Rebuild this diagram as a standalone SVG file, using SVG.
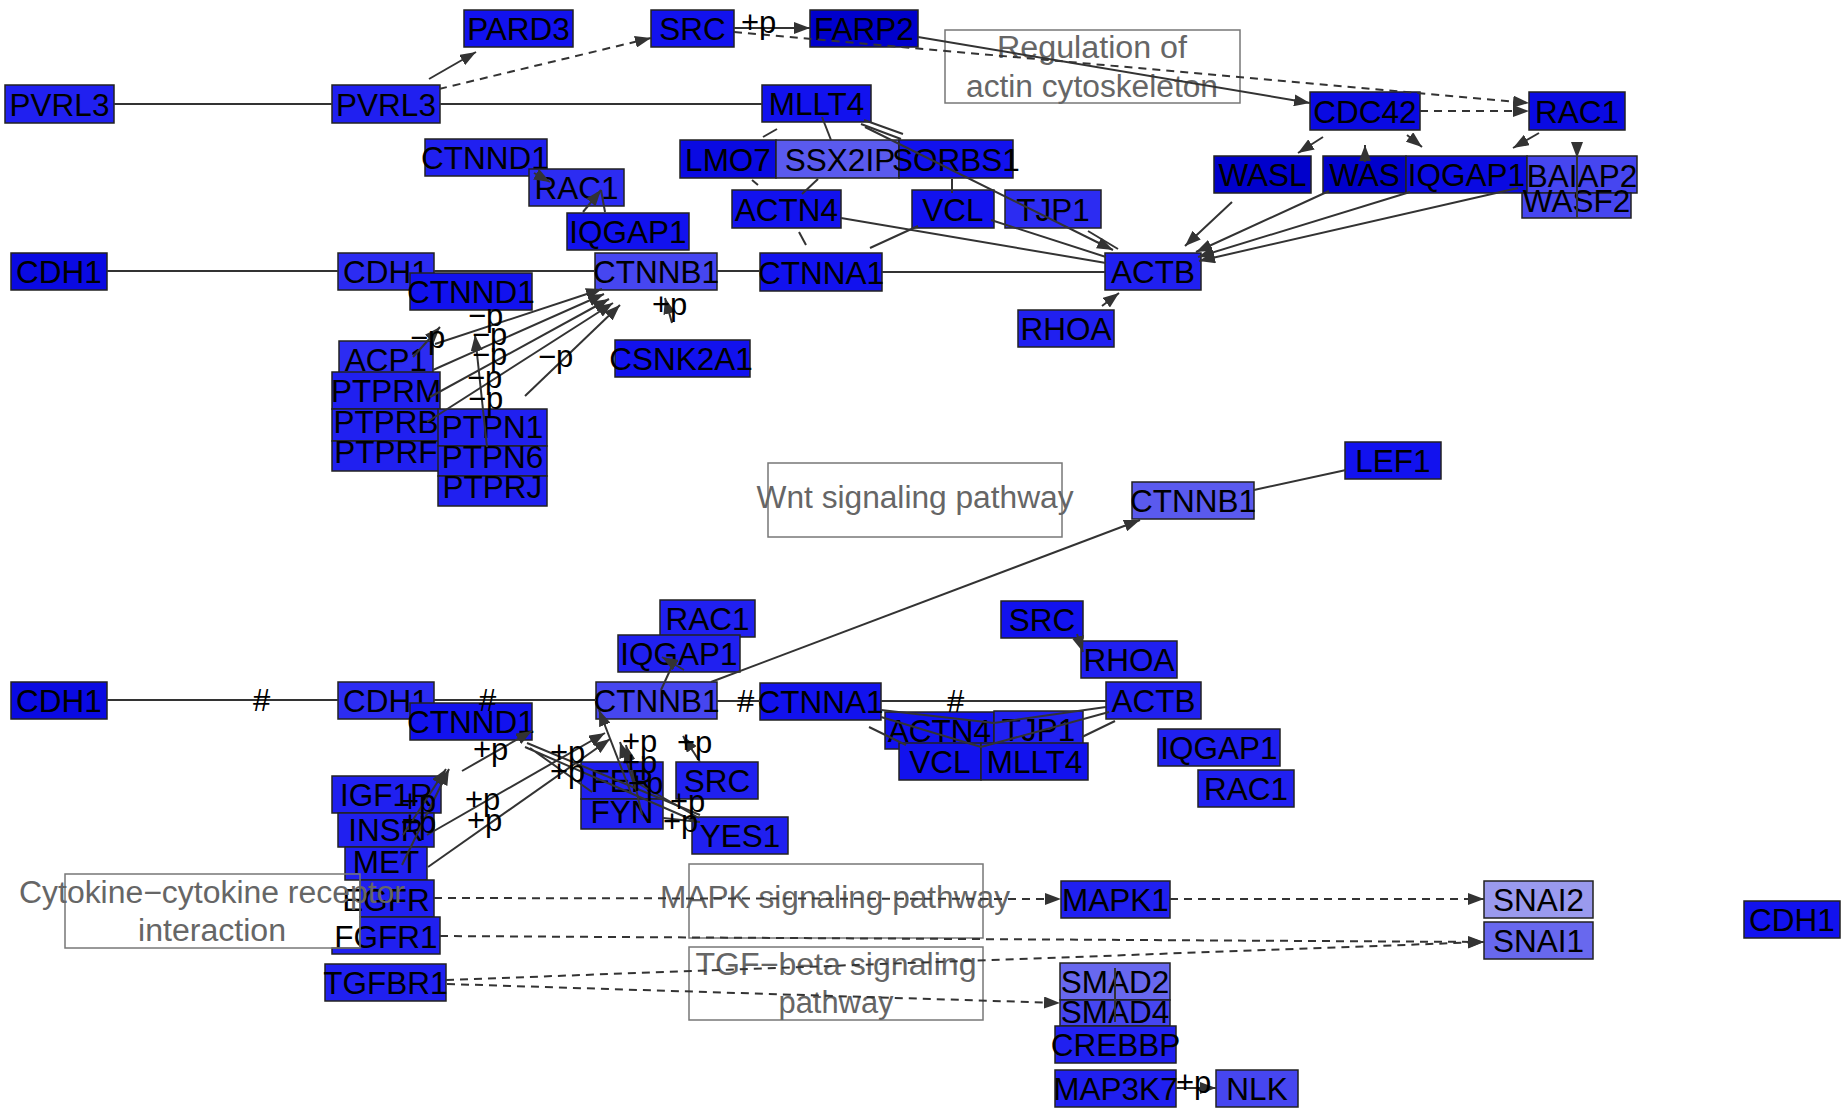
<svg xmlns="http://www.w3.org/2000/svg" width="1844" height="1111" viewBox="0 0 1844 1111">
<style>
.n rect,.n path{stroke:#222;stroke-width:1.5}
.n text{font-family:"Liberation Sans",Arial,sans-serif;font-size:31.5px;fill:#000;text-anchor:middle}
.pw rect{fill:none;stroke:#777;stroke-width:1.5}
.pw text{font-family:"Liberation Sans",Arial,sans-serif;font-size:31px;fill:#666;text-anchor:middle}
.e{fill:none;stroke:#333;stroke-width:2}
.d{stroke-dasharray:8 6}
.a{marker-end:url(#ah)}
.lb{font-family:"Liberation Sans",Arial,sans-serif;font-size:31px;fill:#000}
.k0{fill:#0000cc}.k1{fill:#0a0ae2}.k2{fill:#1212ee}.k3{fill:#2020f0}.k4{fill:#2c2cf2}.k5{fill:#4646f0}.k6{fill:#5a5aee}.k7{fill:#6868ee}.k8{fill:#9a9aee}
</style>
<defs>
<marker id="ah" viewBox="0 0 16 12" refX="16" refY="6" markerWidth="16" markerHeight="12" markerUnits="userSpaceOnUse" orient="auto"><path d="M0,0 L16,6 L0,12 z" fill="#333"/></marker>
</defs>
<rect width="1844" height="1111" fill="#fff"/>
<g id="nodes">
<g id="n-PVRL3-1" class="n"><rect class="k3" x="5" y="85" width="109" height="38"/><text x="59.5" y="115.5">PVRL3</text></g>
<g id="n-PVRL3-2" class="n"><rect class="k3" x="332" y="85" width="108" height="38"/><text x="386" y="115.5">PVRL3</text></g>
<g id="n-PARD3" class="n"><rect class="k2" x="464" y="10" width="109" height="37"/><text x="518.5" y="40">PARD3</text></g>
<g id="n-SRC-1" class="n"><rect class="k2" x="651" y="10" width="83" height="37"/><text x="692.5" y="40">SRC</text></g>
<g id="n-FARP2" class="n"><rect class="k0" x="810" y="10" width="108" height="37"/><text x="864" y="40">FARP2</text></g>
<g id="n-MLLT4-1" class="n"><rect class="k2" x="762" y="85" width="109" height="37"/><text x="816.5" y="115">MLLT4</text></g>
<g id="n-CTNND1-1" class="n"><rect class="k3" x="425" y="139" width="122" height="37"/><text x="485" y="169">CTNND1</text></g>
<g id="n-RAC1-1" class="n"><rect class="k4" x="529" y="169" width="95" height="37"/><text x="576.5" y="199">RAC1</text></g>
<g id="n-IQGAP1-1" class="n"><rect class="k2" x="567" y="213" width="122" height="37"/><text x="628" y="243">IQGAP1</text></g>
<g id="n-LMO7" class="n"><rect class="k1" x="680" y="140" width="96" height="38"/><text x="728" y="170.5">LMO7</text></g>
<g id="n-SSX2IP" class="n"><rect class="k6" x="776" y="140" width="123" height="38"/><text x="840" y="170.5">SSX2IP</text></g>
<g id="n-SORBS1" class="n"><rect class="k2" x="899" y="140" width="114" height="38"/><text x="956" y="170.5">SORBS1</text></g>
<g id="n-ACTN4-1" class="n"><rect class="k2" x="732" y="190" width="109" height="38"/><text x="786.5" y="220.5">ACTN4</text></g>
<g id="n-VCL-1" class="n"><rect class="k2" x="912" y="190" width="82" height="38"/><text x="953" y="220.5">VCL</text></g>
<g id="n-TJP1-1" class="n"><rect class="k4" x="1005" y="190" width="96" height="38"/><text x="1053" y="220.5">TJP1</text></g>
<g id="n-CDH1-1" class="n"><rect class="k1" x="11" y="253" width="96" height="37"/><text x="59" y="283">CDH1</text></g>
<g id="n-CDH1-2" class="n"><rect class="k4" x="338" y="253" width="96" height="37"/><text x="386" y="283">CDH1</text></g>
<g id="n-CTNND1-2" class="n"><rect class="k2" x="410" y="273" width="122" height="37"/><text x="471" y="303">CTNND1</text></g>
<g id="n-CTNNB1-1" class="n"><rect class="k5" x="595" y="253" width="122" height="37"/><text x="656" y="283">CTNNB1</text></g>
<g id="n-CTNNA1-1" class="n"><rect class="k2" x="760" y="253" width="122" height="38"/><text x="821" y="283.5">CTNNA1</text></g>
<g id="n-ACTB-1" class="n"><rect class="k3" x="1105" y="253" width="96" height="37"/><text x="1153" y="283">ACTB</text></g>
<g id="n-RHOA-1" class="n"><rect class="k3" x="1018" y="310" width="96" height="37"/><text x="1066" y="340">RHOA</text></g>
<g id="n-CDC42" class="n"><rect class="k1" x="1310" y="92" width="110" height="38"/><text x="1365" y="122.5">CDC42</text></g>
<g id="n-RAC1-2" class="n"><rect class="k1" x="1529" y="92" width="96" height="38"/><text x="1577" y="122.5">RAC1</text></g>
<g id="n-WASL" class="n"><rect class="k0" x="1214" y="156" width="97" height="37"/><text x="1262.5" y="186">WASL</text></g>
<g id="n-WAS" class="n"><rect class="k0" x="1323" y="156" width="83" height="37"/><text x="1364.5" y="186">WAS</text></g>
<g id="n-IQGAP1-2" class="n"><rect class="k1" x="1406" y="156" width="121" height="37"/><text x="1466.5" y="186">IQGAP1</text></g>
<g id="n-BAIAP2" class="n"><rect class="k5" x="1527" y="156" width="110" height="37"/><text x="1582" y="187">BAIAP2</text></g>
<g id="n-WASF2" class="n"><rect class="k5" x="1522" y="193" width="109" height="25"/><text x="1576.5" y="212">WASF2</text></g>
<g id="n-ACP1" class="n"><rect class="k4" x="339" y="341" width="94" height="37"/><text x="386" y="371">ACP1</text></g>
<g id="n-PTPRM" class="n"><rect class="k3" x="332" y="372" width="108" height="37"/><text x="386" y="402">PTPRM</text></g>
<g id="n-PTPRB" class="n"><rect class="k3" x="332" y="409" width="108" height="32"/><text x="386" y="433">PTPRB</text></g>
<g id="n-PTPRF" class="n"><rect class="k3" x="332" y="441" width="108" height="30"/><text x="386" y="463">PTPRF</text></g>
<g id="n-PTPN1" class="n"><rect class="k3" x="438" y="409" width="109" height="37"/><text x="492.5" y="438">PTPN1</text></g>
<g id="n-PTPN6" class="n"><rect class="k3" x="438" y="446" width="109" height="30"/><text x="492.5" y="468">PTPN6</text></g>
<g id="n-PTPRJ" class="n"><rect class="k3" x="438" y="476" width="109" height="30"/><text x="492.5" y="498">PTPRJ</text></g>
<g id="n-CSNK2A1" class="n"><rect class="k2" x="615" y="340" width="135" height="37"/><text x="681" y="370">CSNK2A1</text></g>
<g id="n-LEF1" class="n"><rect class="k2" x="1345" y="442" width="96" height="37"/><text x="1393" y="472">LEF1</text></g>
<g id="n-CTNNB1-2" class="n"><rect class="k6" x="1132" y="482" width="122" height="37"/><text x="1193" y="512">CTNNB1</text></g>
<g id="n-CDH1-3" class="n"><rect class="k1" x="11" y="682" width="96" height="37"/><text x="59" y="712">CDH1</text></g>
<g id="n-CDH1-4" class="n"><rect class="k4" x="338" y="682" width="96" height="37"/><text x="386" y="712">CDH1</text></g>
<g id="n-CTNND1-3" class="n"><rect class="k2" x="410" y="703" width="122" height="37"/><text x="471" y="733">CTNND1</text></g>
<g id="n-RAC1-3" class="n"><rect class="k3" x="660" y="600" width="95" height="37"/><text x="707.5" y="630">RAC1</text></g>
<g id="n-IQGAP1-3" class="n"><rect class="k3" x="618" y="635" width="122" height="37"/><text x="679" y="665">IQGAP1</text></g>
<g id="n-CTNNB1-3" class="n"><rect class="k5" x="596" y="682" width="121" height="37"/><text x="656.5" y="712">CTNNB1</text></g>
<g id="n-CTNNA1-2" class="n"><rect class="k2" x="760" y="683" width="121" height="37"/><text x="820.5" y="713">CTNNA1</text></g>
<g id="n-ACTN4-2" class="n"><rect class="k2" x="885" y="712" width="109" height="37"/><text x="939.5" y="742">ACTN4</text></g>
<g id="n-TJP1-2" class="n"><rect class="k3" x="994" y="711" width="89" height="37"/><text x="1038.5" y="741">TJP1</text></g>
<g id="n-VCL-2" class="n"><rect class="k2" x="899" y="743" width="82" height="37"/><text x="940" y="773">VCL</text></g>
<g id="n-MLLT4-2" class="n"><rect class="k2" x="981" y="743" width="107" height="37"/><text x="1034.5" y="773">MLLT4</text></g>
<g id="n-SRC-2" class="n"><rect class="k2" x="1001" y="601" width="82" height="37"/><text x="1042" y="631">SRC</text></g>
<g id="n-RHOA-2" class="n"><rect class="k3" x="1081" y="641" width="96" height="37"/><text x="1129" y="671">RHOA</text></g>
<g id="n-ACTB-2" class="n"><rect class="k3" x="1106" y="682" width="95" height="37"/><text x="1153.5" y="712">ACTB</text></g>
<g id="n-IQGAP1-4" class="n"><rect class="k3" x="1158" y="729" width="122" height="37"/><text x="1219" y="759">IQGAP1</text></g>
<g id="n-RAC1-4" class="n"><rect class="k3" x="1198" y="770" width="96" height="37"/><text x="1246" y="800">RAC1</text></g>
<g id="n-FER" class="n"><rect class="k3" x="581" y="762" width="82" height="37"/><text x="622" y="792">FER</text></g>
<g id="n-FYN" class="n"><rect class="k3" x="581" y="799" width="82" height="30"/><text x="622" y="823">FYN</text></g>
<g id="n-SRC-3" class="n"><rect class="k3" x="676" y="762" width="82" height="37"/><text x="717" y="792">SRC</text></g>
<g id="n-YES1" class="n"><rect class="k3" x="692" y="817" width="96" height="37"/><text x="740" y="847">YES1</text></g>
<g id="n-IGF1R" class="n"><rect class="k3" x="332" y="776" width="109" height="37"/><text x="386.5" y="806">IGF1R</text></g>
<g id="n-INSR" class="n"><rect class="k3" x="338" y="813" width="96" height="34"/><text x="386" y="840.5">INSR</text></g>
<g id="n-MET" class="n"><rect class="k3" x="345" y="847" width="82" height="33"/><text x="386" y="872.5">MET</text></g>
<g id="n-EGFR" class="n"><rect class="k3" x="360" y="880" width="74" height="37"/><text x="386" y="910.5">EGFR</text></g>
<g id="n-FGFR1" class="n"><path class="k3" d="M360,917 H440 V954 H332 V948 H360 Z"/><text x="386" y="947.5">FGFR1</text></g>
<g id="n-TGFBR1" class="n"><rect class="k3" x="325" y="964" width="121" height="37"/><text x="385.5" y="993.5">TGFBR1</text></g>
<g id="n-MAPK1" class="n"><rect class="k3" x="1061" y="881" width="109" height="37"/><text x="1115.5" y="911">MAPK1</text></g>
<g id="n-SNAI2" class="n"><rect class="k8" x="1484" y="881" width="109" height="37"/><text x="1538.5" y="911">SNAI2</text></g>
<g id="n-SNAI1" class="n"><rect class="k7" x="1484" y="922" width="109" height="37"/><text x="1538.5" y="952">SNAI1</text></g>
<g id="n-CDH1-5" class="n"><rect class="k2" x="1744" y="901" width="96" height="37"/><text x="1792" y="931">CDH1</text></g>
<g id="n-SMAD2" class="n"><rect class="k7" x="1060" y="963" width="110" height="37"/><text x="1115" y="993">SMAD2</text></g>
<g id="n-SMAD4" class="n"><rect class="k5" x="1060" y="1000" width="110" height="26"/><text x="1115" y="1022.5">SMAD4</text></g>
<g id="n-CREBBP" class="n"><rect class="k3" x="1055" y="1026" width="121" height="37"/><text x="1115.5" y="1056">CREBBP</text></g>
<g id="n-MAP3K7" class="n"><rect class="k3" x="1055" y="1070" width="121" height="37"/><text x="1115.5" y="1100">MAP3K7</text></g>
<g id="n-NLK" class="n"><rect class="k5" x="1216" y="1070" width="82" height="37"/><text x="1257" y="1100">NLK</text></g>
</g>
<g id="pathways">
<g id="p-actin" class="pw"><rect x="945" y="30" width="295" height="73"/><text x="1092" y="58" textLength="190" lengthAdjust="spacingAndGlyphs">Regulation of</text><text x="1092" y="97" textLength="252" lengthAdjust="spacingAndGlyphs">actin cytoskeleton</text></g>
<g id="p-wnt" class="pw"><rect x="768" y="463" width="294" height="74"/><text x="915" y="508" textLength="317" lengthAdjust="spacingAndGlyphs">Wnt signaling pathway</text></g>
<g id="p-mapk" class="pw"><rect x="689" y="864" width="294" height="74"/><text x="835" y="908" textLength="350" lengthAdjust="spacingAndGlyphs">MAPK signaling pathway</text></g>
<g id="p-tgfb" class="pw"><rect x="689" y="947" width="294" height="73"/><text x="836" y="975" textLength="281" lengthAdjust="spacingAndGlyphs">TGF−beta signaling</text><text x="836" y="1013" textLength="115" lengthAdjust="spacingAndGlyphs">pathway</text></g>
<g id="p-cytokine" class="pw"><rect x="65" y="874" width="295" height="74"/><text x="212" y="903" textLength="386" lengthAdjust="spacingAndGlyphs">Cytokine−cytokine receptor</text><text x="212" y="941" textLength="148" lengthAdjust="spacingAndGlyphs">interaction</text></g>
</g>
<g id="connectors">
<path class="e" d="M114,104 H332"/>
<path class="e" d="M440,104 H762"/>
<path class="e a" d="M429,79 L476,52"/>
<path class="e d a" d="M439,89 L651,38"/>
<path class="e a" d="M734,28 L810,28"/>
<path class="e a" d="M918,37 L1310,103"/>
<path class="e d a" d="M734,32 L1529,103"/>
<path class="e d a" d="M1420,111 L1529,111"/>
<path class="e a" d="M1323,137 L1298,153"/>
<path class="e a" d="M1407,135 L1422,147"/>
<path class="e a" d="M1539,133 L1513,148"/>
<path class="e a" d="M1365,162 L1365,145"/>
<path class="e a" d="M1577,143 L1577,158"/>
<path class="e" d="M1577,158 L1577,218"/>
<path class="e a" d="M1232,202 L1185,246"/>
<path class="e a" d="M1329,191 L1196,252"/>
<path class="e a" d="M1410,192 L1198,257"/>
<path class="e a" d="M1518,188 L1199,261"/>
<path class="e a" d="M865,127 L1113,250"/>
<path class="e" d="M1088,231 L1118,249"/>
<path class="e" d="M841,218 L1106,263"/>
<path class="e" d="M991,220 L1106,257"/>
<path class="e" d="M882,272 H1105"/>
<path class="e" d="M717,271 H760"/>
<path class="e" d="M434,271 H595"/>
<path class="e" d="M107,271 H338"/>
<path class="e a" d="M1102,306 L1119,293"/>
<path class="e" d="M763,137 L777,129"/>
<path class="e" d="M822,117 L831,140"/>
<path class="e" d="M861,124 L901,139 M864,120 L903,134"/>
<path class="e" d="M752,180 L758,185"/>
<path class="e" d="M818,179 L802,194"/>
<path class="e" d="M952,179 V193"/>
<path class="e" d="M799,232 L806,245"/>
<path class="e" d="M918,226 L870,248"/>
<path class="e a" d="M534,173 L550,182"/>
<path class="e a" d="M583,212 L601,190"/>
<path class="e" d="M601,190 L605,212"/>
<path class="e a" d="M413,357 L440,327"/>
<path class="e a" d="M435,344 L602,289"/>
<path class="e a" d="M433,370 L604,294"/>
<path class="e a" d="M430,397 L609,299"/>
<path class="e a" d="M427,422 L613,303"/>
<path class="e a" d="M487,447 L475,335"/>
<path class="e a" d="M525,396 L620,305"/>
<path class="e a" d="M672,323 L665,298"/>
<path class="e" d="M1346,470 L1254,490"/>
<path class="e a" d="M711,682 L1140,520"/>
<path class="e" d="M107,700 H338"/>
<path class="e" d="M434,700 H596"/>
<path class="e" d="M717,701 H760"/>
<path class="e" d="M881,701 H1106"/>
<path class="e" d="M881,710 L994,723 L1106,707"/>
<path class="e" d="M881,717 L981,747 L1109,712"/>
<path class="e" d="M869,727 L906,745"/>
<path class="e" d="M1115,721 L1082,737"/>
<path class="e a" d="M1077,634 L1083,652"/>
<path class="e" d="M661,690 L672,666"/>
<path class="e a" d="M684,670 L662,657"/>
<path class="e a" d="M427,835 L605,733"/>
<path class="e a" d="M428,867 L610,739"/>
<path class="e a" d="M403,835 L446,769"/>
<path class="e a" d="M402,865 L449,769"/>
<path class="e a" d="M462,771 L532,731"/>
<path class="e" d="M700,815 L527,743 M697,822 L525,747 M592,792 L530,748"/>
<path class="e a" d="M631,793 L599,710"/>
<path class="e a" d="M636,790 L620,742"/>
<path class="e a" d="M642,815 L626,745"/>
<path class="e a" d="M700,762 L683,736"/>
<path class="e" d="M632,780 L699,818 M663,818 L700,822"/>
<path class="e d a" d="M434,898 L1061,899"/>
<path class="e d a" d="M1170,899 L1484,899"/>
<path class="e d a" d="M440,936 L1484,942"/>
<path class="e d a" d="M446,980 L1484,942"/>
<path class="e d a" d="M447,984 L1060,1003"/>
<path class="e" d="M1115,968 V1022"/>
<path class="e a" d="M1176,1088 L1216,1088"/>
</g>
<g id="edge-labels" class="lb">
<text x="741" y="33">+p</text>
<text x="468" y="326">−p</text>
<text x="472" y="345">−p</text>
<text x="472" y="365">−p</text>
<text x="467" y="388">−p</text>
<text x="468" y="409">−p</text>
<text x="410" y="348">−p</text>
<text x="538" y="367">−p</text>
<text x="652" y="315">+p</text>
<text x="253" y="711">#</text>
<text x="479" y="711">#</text>
<text x="737" y="712">#</text>
<text x="947" y="712">#</text>
<text x="473" y="760">+p</text>
<text x="401" y="812">+p</text>
<text x="401" y="833">+p</text>
<text x="465" y="810">+p</text>
<text x="467" y="831">+p</text>
<text x="550" y="763">+p</text>
<text x="550" y="782">+p</text>
<text x="622" y="752">+p</text>
<text x="622" y="773">+p</text>
<text x="628" y="794">+p</text>
<text x="677" y="753">+p</text>
<text x="670" y="812">+p</text>
<text x="663" y="832">+p</text>
<text x="1176" y="1093">+p</text>
</g>
</svg>
